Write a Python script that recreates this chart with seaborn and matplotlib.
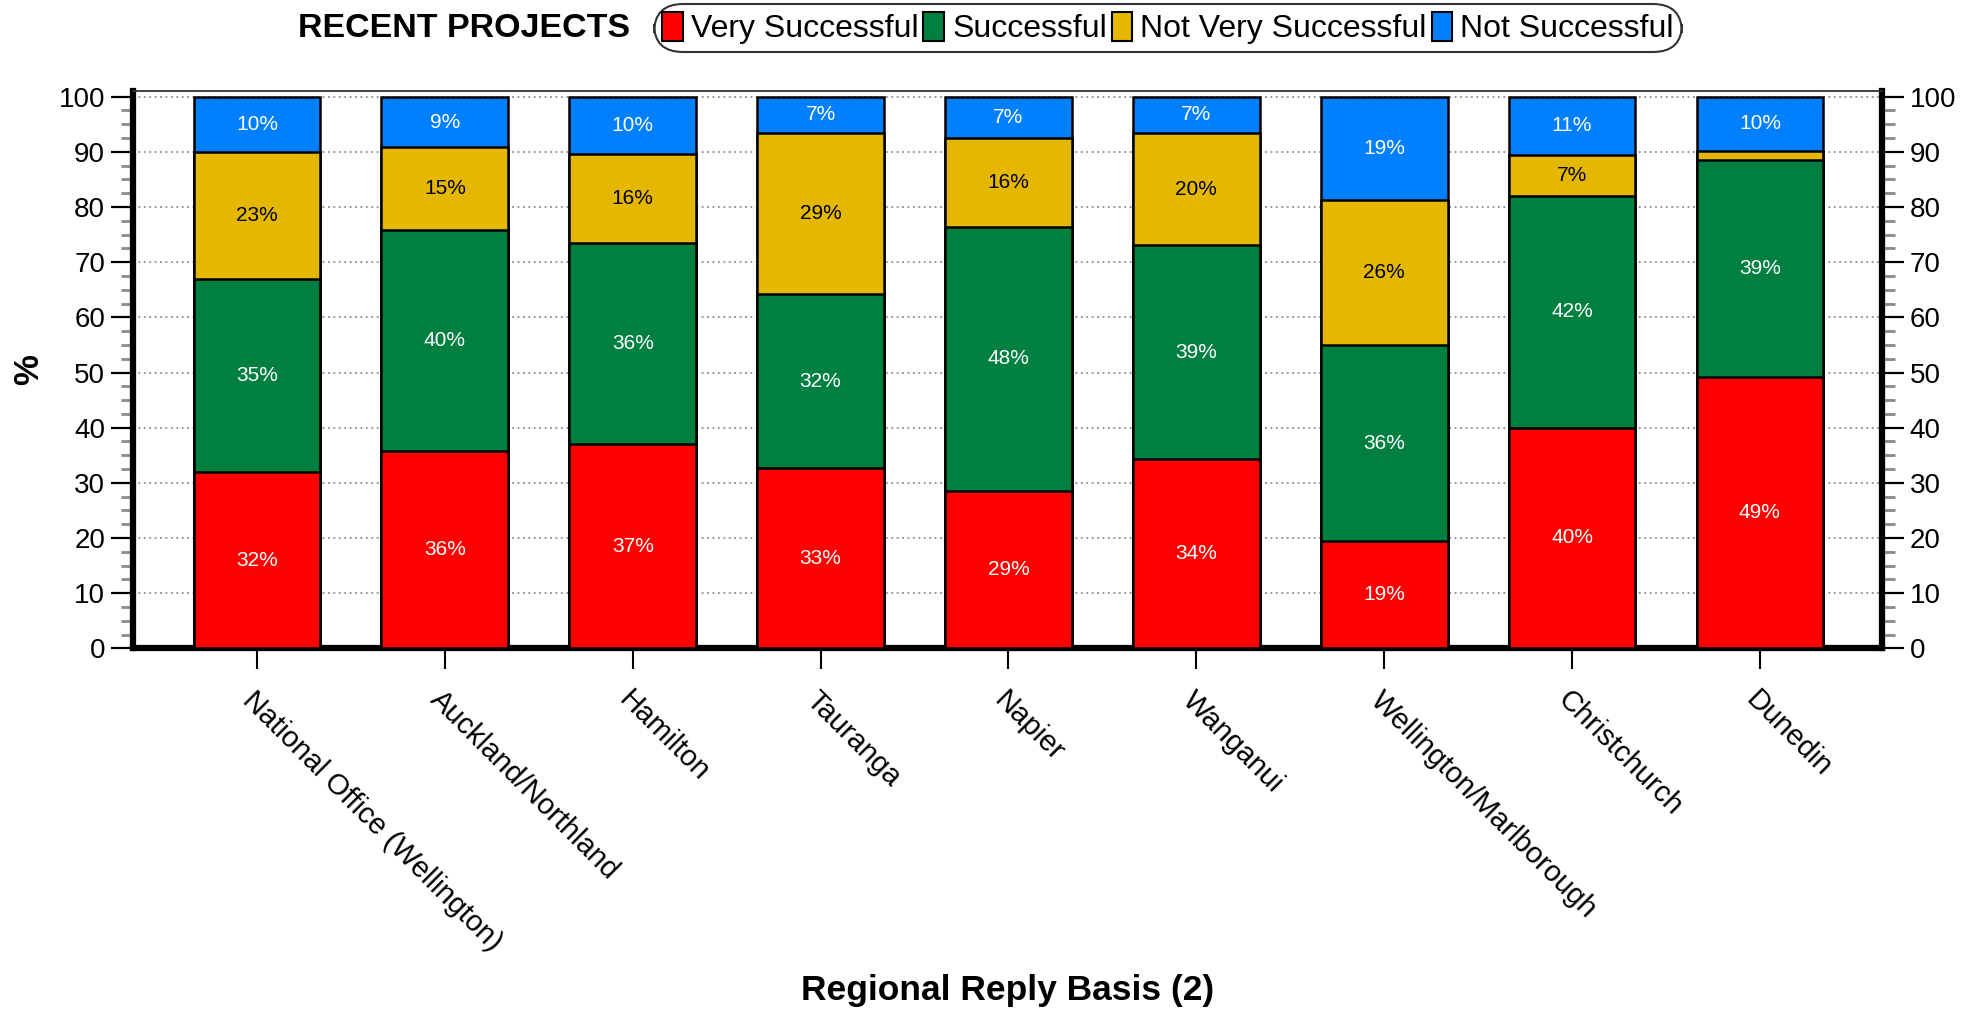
import matplotlib
matplotlib.use("Agg")
import matplotlib.pyplot as plt
import seaborn as sns
import pandas as pd
from matplotlib.patches import Patch
from matplotlib.ticker import MultipleLocator, AutoMinorLocator

# Survey results by region (percent of replies)
regions = [
    "National Office (Wellington)", "Auckland/Northland", "Hamilton", "Tauranga",
    "Napier", "Wanganui", "Wellington/Marlborough", "Christchurch", "Dunedin",
]
very_successful = [32.0, 35.8, 37.0, 32.6, 28.6, 34.3, 19.4, 40.0, 49.2]
successful = [35.0, 40.0, 36.4, 31.7, 47.8, 38.8, 35.6, 42.0, 39.4]
not_very_successful = [23.0, 15.0, 16.2, 29.1, 16.2, 20.3, 26.3, 7.4, 1.5]
not_successful = [10.0, 9.2, 10.4, 6.6, 7.4, 6.6, 18.7, 10.6, 9.9]

series_names = ["Very Successful", "Successful", "Not Very Successful", "Not Successful"]
series_values = [very_successful, successful, not_very_successful, not_successful]
series_colors = ["#FF0000", "#008040", "#E4B800", "#0080FF"]
label_colors = ["white", "white", "black", "white"]

sns.set_style("ticks")
plt.rcParams["font.family"] = ["Liberation Sans", "DejaVu Sans"]
plt.rcParams.update({"text.color": "black", "axes.labelcolor": "black",
                     "xtick.color": "black", "ytick.color": "black"})

df = pd.DataFrame({"region": regions})
cum = [0.0] * len(regions)
bottoms = []
for name, vals in zip(series_names, series_values):
    bottoms.append(list(cum))
    cum = [c + v for c, v in zip(cum, vals)]
    df[name] = cum

fig = plt.figure(figsize=(19.88, 10.13), dpi=100)
ax = fig.add_axes([0.0669, 0.360, 0.8798, 0.550])

# stacked bars: draw cumulative totals from the top series down
for name, color in reversed(list(zip(series_names, series_colors))):
    sns.barplot(data=df, x="region", y=name, color=color, width=0.675,
                edgecolor="black", linewidth=1.8, saturation=1, ax=ax, zorder=3)

# segment labels
for vals, bots, tc in zip(series_values, bottoms, label_colors):
    for i, (v, b) in enumerate(zip(vals, bots)):
        if v >= 3:
            ax.text(i, b + v / 2, f"{v:.0f}%", ha="center", va="center",
                    fontsize=15, color=tc, zorder=5)

ax.set_xlim(-0.66, 8.65)
ax.set_ylim(0, 101)
ax.yaxis.set_major_locator(MultipleLocator(10))
ax.yaxis.set_minor_locator(AutoMinorLocator(4))
ax.set_axisbelow(True)
ax.grid(axis="y", which="major", color="#8c8c8c", linestyle=(0, (1, 2)), linewidth=1.3, zorder=0)

for side in ["left", "right", "bottom"]:
    ax.spines[side].set_linewidth(4.5)
    ax.spines[side].set_color("black")
ax.spines["top"].set_linewidth(1.3)
ax.spines["top"].set_color("#333333")

ax.tick_params(axis="y", which="major", left=True, right=True, labelleft=True, labelright=True,
               length=16, width=1.6, color="black", labelsize=20, pad=4, direction="out")
ax.tick_params(axis="y", which="minor", left=True, right=True, length=9, width=2,
               color="#8a8a8a", direction="out")
ax.tick_params(axis="x", which="major", length=15, width=1.5, color="black", pad=12,
               labelsize=21, direction="out")
ax.set_xticks(range(len(regions)))
ax.set_xticklabels(regions, rotation=-45, ha="left", va="top", rotation_mode="anchor")

ax.set_ylabel("%", fontsize=25, fontweight="bold", labelpad=10)
ax.set_xlabel("Regional Reply Basis (2)", fontsize=25.5, fontweight="bold")
ax.xaxis.set_label_coords(0.5, -0.585)

# header: title and legend
fig.text(0.317, 0.972, "RECENT PROJECTS", ha="right", va="center",
         fontsize=24.5, fontweight="bold")
handles = [Patch(facecolor=c, edgecolor="black", linewidth=1.5) for c in series_colors]
leg = fig.legend(handles, series_names, loc="center", bbox_to_anchor=(0.5875, 0.972),
                 ncol=4, fontsize=23, frameon=True, fancybox=True, handlelength=0.65,
                 handleheight=1.0, handletextpad=0.25, columnspacing=0.15,
                 borderpad=0.25, borderaxespad=0)
frame = leg.get_frame()
frame.set_edgecolor("black")
frame.set_linewidth(1.5)
frame.set_boxstyle("round,pad=0.0,rounding_size=0.9")

fig.savefig("out.png", dpi=100)
